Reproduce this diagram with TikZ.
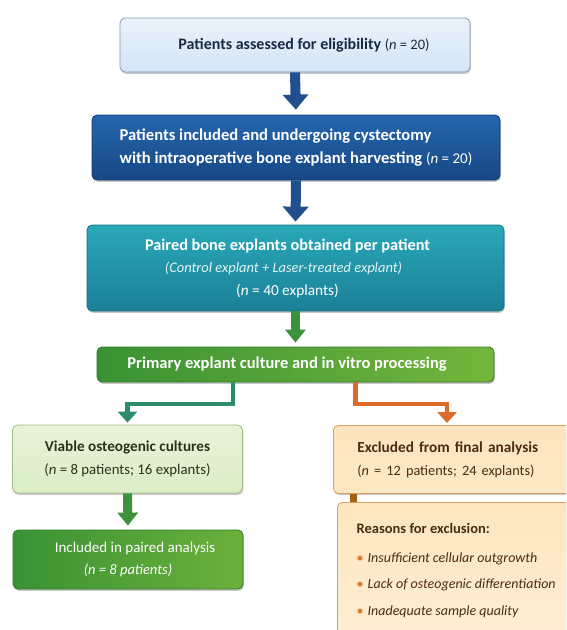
\documentclass[tikz,border=0pt]{standalone}
\usepackage{fontspec}
\setmainfont{Carlito}
\usetikzlibrary{arrows.meta,shadows}
\definecolor{bonefill}{HTML}{EAF2FB}
\definecolor{bonefillb}{HTML}{D4E5F5}
\definecolor{boneborder}{HTML}{7E9EC0}
\definecolor{bonetext}{HTML}{1A2A44}
\definecolor{darkblue}{HTML}{1F4F8E}
\definecolor{btwotop}{HTML}{2566AE}
\definecolor{btwobot}{HTML}{174885}
\definecolor{btwoborder}{HTML}{123A6E}
\definecolor{tealtop}{HTML}{2AA8B8}
\definecolor{tealbot}{HTML}{1A8098}
\definecolor{tealborder}{HTML}{176E80}
\definecolor{greenleft}{HTML}{3A9234}
\definecolor{greenright}{HTML}{74B63C}
\definecolor{greenborder}{HTML}{2F7A2B}
\definecolor{arrowgreen}{HTML}{3D913B}
\definecolor{conngreen}{HTML}{2E8C6A}
\definecolor{connorange}{HTML}{DE6A2C}
\definecolor{lgreen}{HTML}{E8F3D9}
\definecolor{lgreenb}{HTML}{DCEDC6}
\definecolor{lgreenborder}{HTML}{9DBE83}
\definecolor{lorange}{HTML}{FDE5BF}
\definecolor{lorangeb}{HTML}{FEEFD6}
\definecolor{lorangeborder}{HTML}{D9A262}
\definecolor{brownc}{HTML}{A0620F}
\definecolor{browntext}{HTML}{4A2C14}
\definecolor{greentext}{HTML}{25351C}
\definecolor{bulletc}{HTML}{E07A22}
\definecolor{paletext}{HTML}{E4F4F6}
\tikzset{
  box/.style={rounded corners=5pt, draw, line width=0.8pt,
    drop shadow={shadow xshift=0.8pt, shadow yshift=-1.8pt, opacity=0.22, fill=black}},
  bigarrow/.style={line width=10pt, -{Triangle[width=25pt,length=15pt]}},
  midarrow/.style={line width=9pt, -{Triangle[width=20pt,length=13pt]}},
  connline/.style={line width=4.5pt, -{Triangle[width=19pt,length=11pt]}},
}
\begin{document}
\begin{tikzpicture}[x=1pt,y=-1pt]
\useasboundingbox (0,0) rectangle (566,630);
\clip (0,0) rectangle (566,630);

\node[box, top color=bonefill, bottom color=bonefillb, draw=boneborder,
  minimum width=350pt, minimum height=54pt, text=bonetext,
  font=\fontsize{16}{19}\selectfont] (b1) at (295,45)
  {\hspace*{18pt}\textbf{Patients assessed for eligibility} {\fontsize{14.5}{17}\selectfont(\textit{n} = 20)}};

\node[box, top color=btwotop, bottom color=btwobot, draw=btwoborder,
  minimum width=408pt, minimum height=65pt, text=white, align=left,
  font=\fontsize{16.6}{23}\selectfont\bfseries] (b2) at (296,147.5)
  {Patients included and undergoing cystectomy\\
   with intraoperative bone explant harvesting {\mdseries\fontsize{15}{23}\selectfont(\textit{n} = 20)}};

\node[box, top color=tealtop, bottom color=tealbot, draw=tealborder,
  minimum width=417pt, minimum height=86pt, text=white, align=center,
  font=\fontsize{16.3}{22.5}\selectfont] (b3) at (295.5,268)
  {\hspace*{-16pt}\textbf{Paired bone explants obtained per patient}\\
   \hspace*{-24pt}{\color{paletext}\fontsize{14.5}{22.5}\selectfont\textit{(Control explant + Laser-treated explant)}}\\
   \hspace*{-16pt}{\fontsize{15.3}{22.5}\selectfont(\textit{n} = 40 explants)}};

\node[box, left color=greenleft, right color=greenright, draw=greenborder,
  minimum width=397pt, minimum height=35pt, text=white,
  font=\fontsize{16.5}{19}\selectfont\bfseries] (b4) at (295.5,364.5)
  {\hspace*{-17pt}Primary explant culture and in vitro processing};

\node[box, top color=lgreen, bottom color=lgreenb, draw=lgreenborder,
  minimum width=230pt, minimum height=68pt, text=greentext, align=center,
  font=\fontsize{15.2}{23}\selectfont] (b5) at (127.5,459)
  {\textbf{Viable osteogenic cultures}\\{\fontsize{14.8}{23}\selectfont(\textit{n} = 8 patients; 16 explants)}};

\node[box, left color=greenleft, right color=greenright!85!greenleft, draw=greenborder,
  minimum width=230pt, minimum height=59pt, text=white, align=center,
  font=\fontsize{15}{22}\selectfont] (b6) at (128,559.5)
  {\hspace*{14pt}Included in paired analysis\\{\fontsize{14.5}{22}\selectfont\textit{(n = 8 patients)}}};

\node[box, top color=lorange, bottom color=lorange!80!lorangeb, draw=lorangeborder,
  minimum width=257pt, minimum height=68pt, anchor=north west,
  text width=209pt, inner xsep=24pt, align=left, text=browntext,
  font=\fontsize{15.3}{23}\selectfont] (b7) at (333,425)
  {\textbf{Excluded from final analysis}\\{\fontsize{14.3}{23}\selectfont(\textit{n} = 12 patients; 24 explants)}};

\node[box, top color=lorange, bottom color=lorangeb, draw=lorangeborder,
  minimum width=253pt, minimum height=150pt, anchor=north west] (b8) at (337,502) {};
\node[anchor=north west, align=left, text=browntext, inner sep=0pt,
  font=\fontsize{14}{26.5}\selectfont] (b8t) at (356.5,523)
  {{\fontsize{14.5}{26.5}\selectfont\textbf{Reasons for exclusion:}}\\[2.5pt]
   {\color{bulletc}•}\hspace{4pt}\textit{Insufficient cellular outgrowth}\\
   {\color{bulletc}•}\hspace{4pt}\textit{Lack of osteogenic differentiation}\\
   {\color{bulletc}•}\hspace{4pt}\textit{Inadequate sample quality}};

\draw[bigarrow, darkblue, shorten >=5pt] (b1.south) -- (b2.north);
\draw[bigarrow, darkblue, shorten >=3pt] (b2.south) -- (b3.north);
\draw[midarrow, arrowgreen, shorten >=4pt] (b3.south) -- (b4.north);
\draw[midarrow, arrowgreen, shorten >=4pt] (b5.south) -- (b6.north);

\coordinate (lturn) at (233,404);
\draw[connline, conngreen, shorten >=2pt] (b4.south -| lturn) -- (lturn) -| (b5.north);
\coordinate (rturn) at (355.5,404);
\coordinate (rdrop) at (447,0);
\draw[connline, connorange, shorten >=2pt] (b4.south -| rturn) -- (rturn) -| (b7.north -| rdrop);
\coordinate (bdrop) at (353.5,0);
\draw[brownc, line width=7pt] (b7.south -| bdrop) -- (b8.north -| bdrop);
\end{tikzpicture}
\end{document}
